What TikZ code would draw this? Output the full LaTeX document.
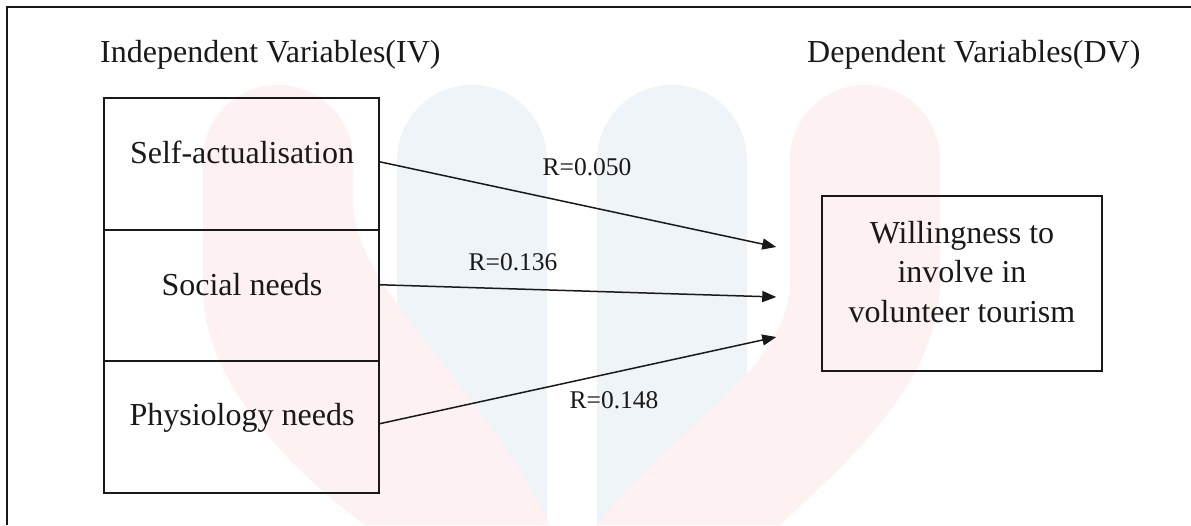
\documentclass[tikz,border=0pt]{standalone}
\usepackage{fontspec}
\setmainfont{Liberation Serif}
\usetikzlibrary{arrows.meta}
\definecolor{wmpink}{RGB}{253,241,241}
\definecolor{wmblue}{RGB}{239,244,248}
\definecolor{ink}{RGB}{25,25,25}
\begin{document}
\begin{tikzpicture}[x=1pt,y=-1pt,
  maintext/.style={font=\fontsize{32}{39.5}\selectfont, text=ink, inner sep=0pt},
  rtext/.style={font=\fontsize{25.5}{30}\selectfont, text=ink, inner sep=0pt, anchor=base},
  cell/.style={draw=ink, line width=1.5pt, minimum width=275pt, inner sep=0pt, anchor=north west},
  conn/.style={draw=ink, line width=1.5pt, -{Triangle[length=14pt,width=11pt]}}]
\useasboundingbox (0,0) rectangle (1191,525);
% watermark
\fill[wmblue] (397,525) -- (397,160) .. controls (397,118.6) and (430.6,85) .. (472,85)
  .. controls (513.4,85) and (547,118.6) .. (547,160) -- (547,525) -- cycle;
\fill[wmblue] (597,525) -- (597,160) .. controls (597,118.6) and (630.6,85) .. (672,85)
  .. controls (713.4,85) and (747,118.6) .. (747,160) -- (747,525) -- cycle;
\fill[wmpink] (203,290) -- (203,160) .. controls (203,118.6) and (236.6,85) .. (278,85)
  .. controls (319.4,85) and (353,118.6) .. (353,160) -- (353,200)
  .. controls (353,290) and (480,380) .. (550,525) -- (365,525)
  .. controls (290,470) and (203,380) .. (203,290) -- cycle;
\fill[wmpink] (790,280) -- (790,160) .. controls (790,118.6) and (823.6,85) .. (865,85)
  .. controls (906.4,85) and (940,118.6) .. (940,160) -- (940,280)
  .. controls (940,380) and (850,460) .. (780,525) -- (597,525)
  .. controls (680,420) and (790,370) .. (790,280) -- cycle;
% frame
\draw[ink, line width=1.8pt] (7,525) -- (7,7) -- (1191,7);
% headings
\node[maintext, anchor=base west] (ivh) at (100,62) {Independent Variables(IV)};
\node[maintext, anchor=base west] (dvh) at (807,62) {Dependent Variables(DV)};
% left cells
\node[cell, minimum height=132pt] (c1) at (103,97) {};
\node[cell, minimum height=131pt] (c2) at (103,229) {};
\node[cell, minimum height=132pt] (c3) at (103,360) {};
\node[maintext, anchor=base] (t1) at (242,163) {Self-actualisation};
\node[maintext, anchor=base] (t2) at (242,295) {Social needs};
\node[maintext, anchor=base] (t3) at (242,425) {Physiology needs};
% dependent box
\node[draw=ink, line width=1.5pt, minimum width=280pt, minimum height=175pt, inner sep=0pt] (w) at (962,283.5) {};
\node[maintext, align=center] (wt) at (962,272) {Willingness to\\involve in\\volunteer tourism};
% connectors
\draw[conn] ([yshift=2pt]c1.east) -- ([xshift=-45pt,yshift=36.5pt]w.west);
\draw[conn] ([yshift=10.5pt]c2.east) -- ([xshift=-45pt,yshift=-13.5pt]w.west);
\draw[conn] ([yshift=3pt]c3.east) -- ([xshift=-45pt,yshift=-53.5pt]w.west);
% labels
\node[rtext] (r1) at (587,175) {R=0.050};
\node[rtext] (r2) at (513,270) {R=0.136};
\node[rtext] (r3) at (614,408) {R=0.148};
\end{tikzpicture}
\end{document}
